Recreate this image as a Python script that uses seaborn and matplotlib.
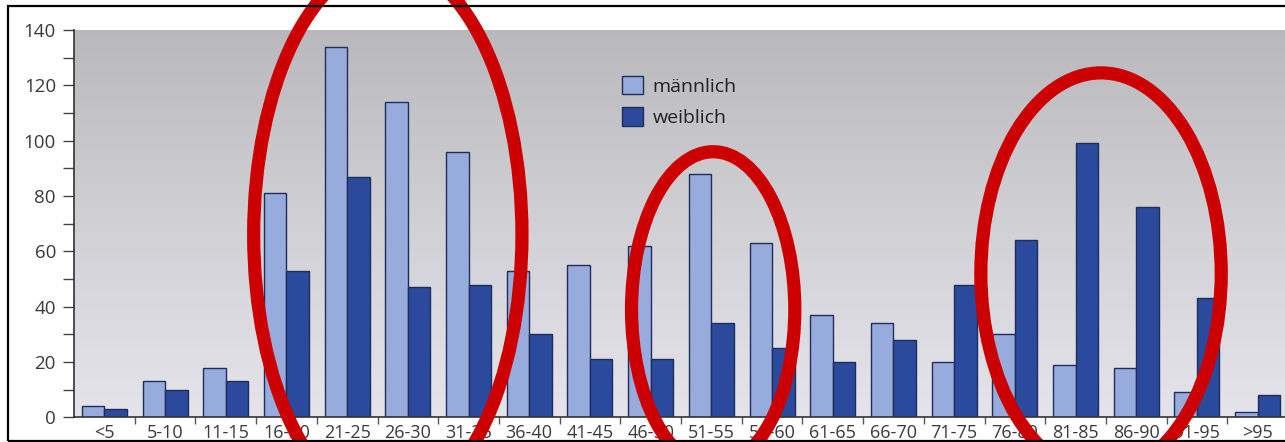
import numpy as np
import pandas as pd
import seaborn as sns
import matplotlib.pyplot as plt
from matplotlib.patches import Ellipse, Rectangle
from matplotlib.colors import LinearSegmentedColormap
from matplotlib.ticker import MultipleLocator, FixedLocator

# Altersgruppen und Fallzahlen
age_groups = ['<5', '5-10', '11-15', '16-20', '21-25', '26-30', '31-35', '36-40',
              '41-45', '46-50', '51-55', '56-60', '61-65', '66-70', '71-75',
              '76-80', '81-85', '86-90', '91-95', '>95']
male = [4, 13, 18, 81, 134, 114, 96, 53, 55, 62, 88, 63, 37, 34, 20, 30, 19, 18, 9, 2]
female = [3, 10, 13, 53, 87, 47, 48, 30, 21, 21, 34, 25, 20, 28, 48, 64, 99, 76, 43, 8]
series_names = ['männlich', 'weiblich']
series_colors = ['#97acdc', '#2b4a9d']

# red highlight ellipses: (center group index, center value, width in groups, height in values)
highlights = [(4.67, 66, 4.42, 197), (10.03, 39, 2.69, 114), (16.42, 52, 3.96, 145)]

df = pd.DataFrame({
    'Alter': age_groups * 2,
    'Anzahl': male + female,
    'Geschlecht': [series_names[0]] * len(age_groups) + [series_names[1]] * len(age_groups),
})

sns.set_theme(style='white')
plt.rcParams['font.family'] = ['Open Sans', 'DejaVu Sans']

fig = plt.figure(figsize=(12.85, 4.42), dpi=100)
fig.patch.set_facecolor('white')
ax = fig.add_axes([74 / 1285, (442 - 417.3) / 442, (1288 - 74) / 1285, (417.3 - 30) / 442])

sns.barplot(data=df, x='Alter', y='Anzahl', hue='Geschlecht', order=age_groups,
            hue_order=series_names, palette=series_colors, width=0.74,
            edgecolor='#1f2d5c', linewidth=1.0, saturation=1, ax=ax, zorder=2)

# gray gradient background
grad = LinearSegmentedColormap.from_list('bg', ['#e4e4ea', '#d0d0d5', '#b9b9bd'])
ax.imshow(np.linspace(0, 1, 256).reshape(-1, 1), extent=[-0.5, 19.5, 0, 140],
          origin='lower', aspect='auto', cmap=grad, zorder=0)
ax.set_xlim(-0.5, 19.5)
ax.set_ylim(0, 140)

ax.set_xlabel('')
ax.set_ylabel('')
for s in ['top', 'right']:
    ax.spines[s].set_visible(False)
for s in ['left', 'bottom']:
    ax.spines[s].set_color('#333333')
    ax.spines[s].set_linewidth(1.2)

ax.yaxis.set_major_locator(MultipleLocator(20))
ax.yaxis.set_minor_locator(MultipleLocator(10))
ax.tick_params(axis='y', which='both', left=True, length=8, width=1, color='#444444',
               labelsize=13.5, labelcolor='#3a3a3a', pad=5)
ax.xaxis.set_minor_locator(FixedLocator(np.arange(0.5, 19, 1)))
ax.tick_params(axis='x', which='major', bottom=True, length=0, labelsize=13,
               labelcolor='#3a3a3a', pad=5)
ax.tick_params(axis='x', which='minor', bottom=True, length=5, width=1, color='#555555')

leg = ax.legend(loc='upper left', bbox_to_anchor=(612 / 1285, (442 - 66) / 442),
                bbox_transform=fig.transFigure, frameon=False, fontsize=14,
                handlelength=1.1, handleheight=1.1, handletextpad=0.5,
                labelspacing=0.6, borderpad=0)
for t in leg.get_texts():
    t.set_color('#222222')

for cx, cy, w, h in highlights:
    ax.add_patch(Ellipse((cx, cy), w, h, fill=False, ec='#cc0000', lw=9.5,
                         clip_on=False, zorder=5))

fig.add_artist(Rectangle((8 / 1285, 1.5 / 442), 1.1, (438.5 - 4) / 442,
                         transform=fig.transFigure, fill=False, ec='black', lw=1.6,
                         zorder=10))

fig.savefig('out.png', dpi=100)
